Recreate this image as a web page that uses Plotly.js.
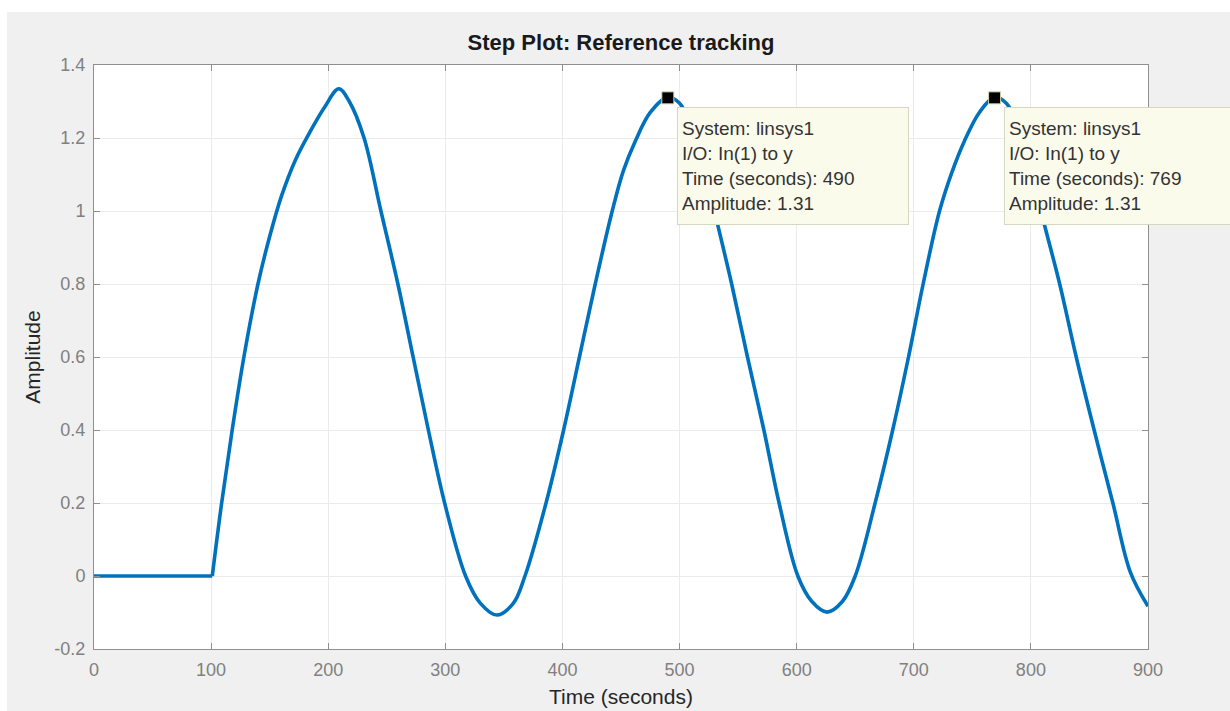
<!DOCTYPE html>
<html>
<head>
<meta charset="utf-8">
<script src="https://cdn.plot.ly/plotly-3.0.1.min.js"></script>
<style>
  html, body { margin: 0; padding: 0; background: #ffffff; width: 1230px; height: 711px; overflow: hidden; }
  #plot { position: absolute; left: 7px; top: 12px; width: 1223px; height: 699px; }
</style>
</head>
<body>
<div id="plot"></div>
<script>
// Step response samples (seconds, amplitude)
const time = [0, 101, 109, 118, 128, 140, 150, 160, 172, 185, 197, 209,
  218, 230.6, 245, 259.5, 272.5, 285.5, 299.4, 317.3, 330, 344, 358,
  368, 386, 401, 414.5, 428, 442.5, 452, 462, 475, 490,
  500, 510, 520, 532, 544.5, 558, 572, 585, 601, 613, 626, 639,
  650, 667, 682, 695.5, 708, 722, 733, 743, 756, 769,
  779, 789, 799, 811, 824.6, 838.7, 854, 870, 885, 900];
const amplitude = [0, 0, 0.2, 0.4, 0.6, 0.8, 0.93, 1.04, 1.14, 1.22, 1.285, 1.335,
  1.3, 1.2, 1.0, 0.8, 0.6, 0.4, 0.2, 0, -0.075, -0.107, -0.075,
  0, 0.2, 0.4, 0.6, 0.8, 1.0, 1.11, 1.19, 1.27, 1.312,
  1.295, 1.235, 1.13, 0.97, 0.8, 0.6, 0.4, 0.2, 0, -0.07, -0.099, -0.07,
  0, 0.2, 0.4, 0.6, 0.8, 1.0, 1.11, 1.19, 1.27, 1.312,
  1.295, 1.235, 1.13, 0.97, 0.8, 0.6, 0.4, 0.2, 0.01, -0.083];

// Data tips
const tipTimes = [490, 769];
const tipAmplitudes = [1.31, 1.31];
const tipSystem = ["linsys1", "linsys1"];
const tipIO = ["In(1) to y", "In(1) to y"];

// Axis ticks
const xTickVals = [0, 100, 200, 300, 400, 500, 600, 700, 800, 900];
const xTickText = ["0", "100", "200", "300", "400", "500", "600", "700", "800", "900"];
const yTickVals = [-0.2, 0, 0.2, 0.4, 0.6, 0.8, 1.0, 1.2, 1.4];
const yTickText = ["-0.2", "0", "0.2", "0.4", "0.6", "0.8", "1", "1.2", "1.4"];

const FONT = "Liberation Sans, Arial, Helvetica, sans-serif";
const LINE = "#0072BD";

// split at the step corner: flat part drawn straight, response drawn smooth
const corner = time.indexOf(101);
const traces = [
  {
    x: time.slice(0, corner + 1), y: amplitude.slice(0, corner + 1),
    type: "scatter", mode: "lines",
    line: { color: LINE, width: 3.6 }, hoverinfo: "skip", showlegend: false
  },
  {
    x: time.slice(corner), y: amplitude.slice(corner),
    type: "scatter", mode: "lines",
    line: { color: LINE, width: 3.6, shape: "spline", smoothing: 1.0 },
    showlegend: false
  },
  {
    x: tipTimes, y: tipAmplitudes,
    type: "scatter", mode: "markers",
    marker: { symbol: "square", size: 12, color: "#000000", line: { color: "#d9d2a6", width: 1 } },
    cliponaxis: false, showlegend: false
  }
];

const annotations = tipTimes.map((t, i) => ({
  x: t, y: tipAmplitudes[i], xref: "x", yref: "y",
  showarrow: false, xanchor: "left", yanchor: "top",
  xshift: 9, yshift: -9,
  width: 222, height: 108, align: "left", valign: "middle",
  bgcolor: "#fbfbec", bordercolor: "#d6d6c4", borderwidth: 1, borderpad: 4,
  font: { family: FONT, size: 19, color: "#333333" },
  text: "System: " + tipSystem[i] + "<br>I/O: " + tipIO[i] +
        "<br>Time (seconds): " + t + "<br>Amplitude: " + tipAmplitudes[i].toFixed(2)
}));

const axisCommon = {
  showgrid: true, gridcolor: "#ebebeb", gridwidth: 1,
  showline: true, linecolor: "#8f8f8f", linewidth: 1,
  mirror: "ticks", ticks: "inside", ticklen: 6, tickcolor: "#8f8f8f", tickwidth: 1,
  zeroline: false, automargin: false,
  tickfont: { family: FONT, size: 18, color: "#808080" }
};

const layout = {
  width: 1223, height: 699,
  paper_bgcolor: "#f0f0f0", plot_bgcolor: "#ffffff",
  margin: { l: 87, r: 82, t: 53, b: 62 },
  font: { family: FONT },
  title: {
    text: "<b>Step Plot: Reference tracking</b>",
    font: { family: FONT, size: 22, color: "#1a1a1a" },
    x: 0.5, xref: "paper", xanchor: "center",
    y: 1 - 30 / 699, yref: "container", yanchor: "middle"
  },
  xaxis: Object.assign({}, axisCommon, {
    range: [0, 900], tickmode: "array", tickvals: xTickVals, ticktext: xTickText,
    ticklabelstandoff: 4,
    title: { text: "Time (seconds)", font: { family: FONT, size: 21, color: "#262626" }, standoff: 10 }
  }),
  yaxis: Object.assign({}, axisCommon, {
    range: [-0.2, 1.4], tickmode: "array", tickvals: yTickVals, ticktext: yTickText,
    ticklabelstandoff: 4,
    title: { text: "Amplitude", font: { family: FONT, size: 21, color: "#262626" }, standoff: 8 }
  }),
  annotations: annotations
};

Plotly.newPlot("plot", traces, layout, { staticPlot: true, displayModeBar: false });
</script>
</body>
</html>
